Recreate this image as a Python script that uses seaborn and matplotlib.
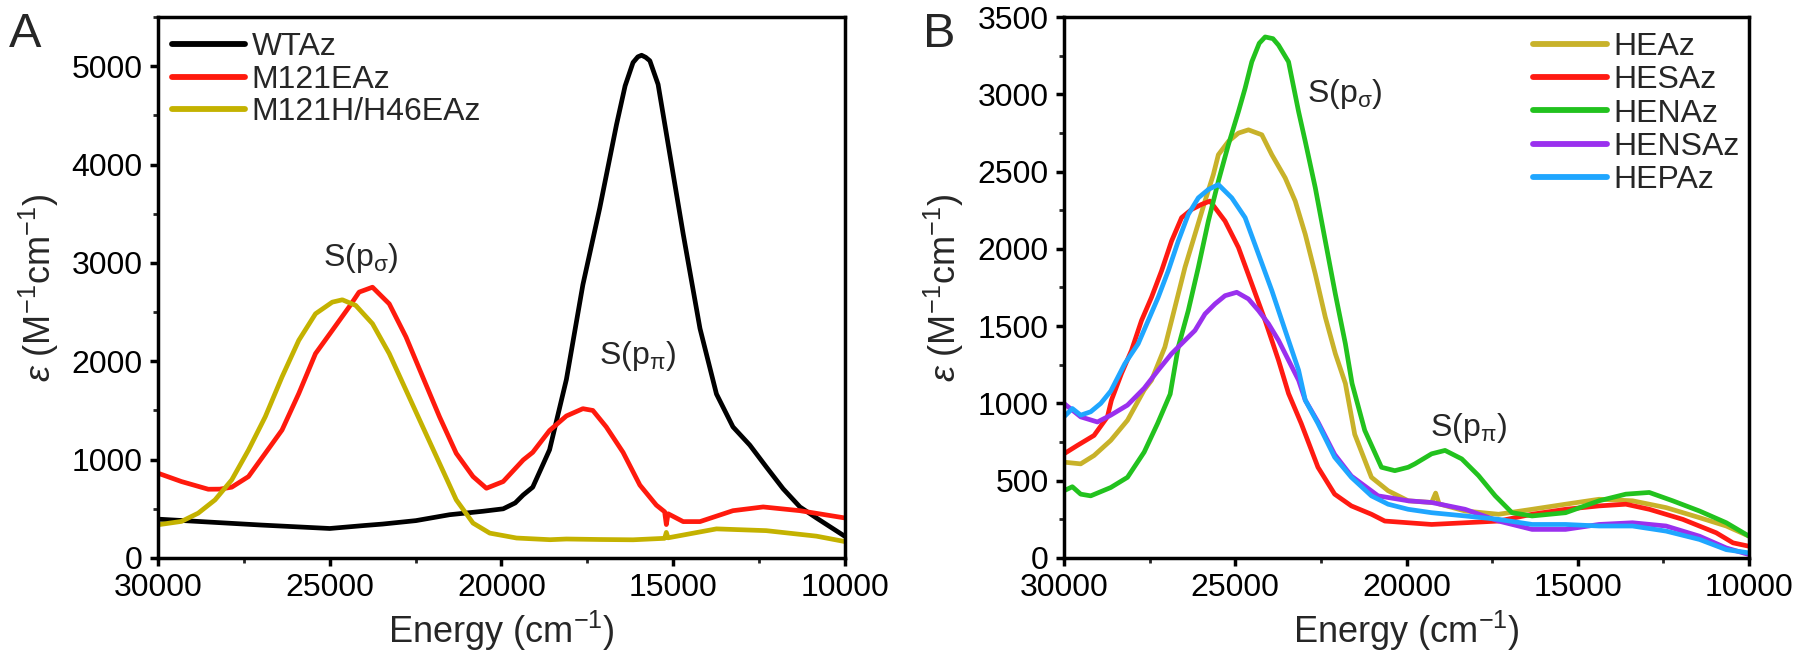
import matplotlib
matplotlib.use("Agg")
import matplotlib.pyplot as plt
import seaborn as sns
from matplotlib.ticker import MultipleLocator

# ---------------- Panel A data ----------------
wt_E = [30000, 28500, 27000, 25000, 24000, 23460, 22490, 21510, 20540, 19950, 19600, 19370, 19090,
        18780, 18600, 18110, 17630, 17140, 16650, 16400, 16170, 16030, 15920, 15800, 15680, 15440,
        15190, 14710, 14220, 13740, 13260, 12770, 12290, 11800, 11310, 10830, 10000]
wt_v = [395, 365, 335, 300, 330, 345, 380, 440, 475, 500, 560, 640, 720,
        960, 1100, 1815, 2778, 3556, 4407, 4800, 5037, 5095, 5111, 5090, 5055, 4815,
        4296, 3296, 2333, 1667, 1333, 1148, 926, 704, 519, 407, 220]

m121e_E = [30000, 29317, 28537, 28200, 27854, 27366, 26878, 26390, 25902, 25415, 24927, 24439, 24146,
           23756, 23268, 22780, 22293, 21805, 21317, 20829, 20439, 19951, 19366, 19090, 18600, 18110,
           17630, 17340, 16950, 16460, 15970, 15490, 15250, 15200, 15150, 14710, 14220, 13260, 12380,
           11310, 10000]
m121e_v = [862, 777, 699, 700, 720, 828, 1064, 1301, 1672, 2078, 2314, 2551, 2703,
           2753, 2584, 2247, 1841, 1436, 1064, 828, 709, 777, 997, 1074, 1296, 1444,
           1518, 1500, 1333, 1074, 741, 537, 470, 340, 450, 370, 370, 481, 519,
           481, 407]

m121h_E = [30000, 29317, 28830, 28340, 27854, 27366, 26878, 26390, 25902, 25415, 24927, 24634, 24244,
           23756, 23268, 22780, 22293, 21805, 21317, 20829, 20342, 19561, 18585, 18110, 17140, 16170,
           15250, 15200, 15150, 13740, 12290, 10830, 10000]
m121h_v = [338, 372, 456, 591, 794, 1098, 1436, 1841, 2213, 2483, 2601, 2625, 2568,
           2382, 2078, 1706, 1334, 963, 591, 355, 253, 203, 186, 193, 188, 185,
           200, 260, 205, 296, 278, 222, 167]

# ---------------- Panel B data ----------------
hea_E = [30000, 29512, 29122, 28634, 28146, 27659, 27444, 27054, 26761, 26468, 26176, 25883, 25639,
         25493, 25200, 24907, 24615, 24224, 23932, 23542, 23249, 22956, 22663, 22371, 22078, 21785,
         21512, 21024, 20537, 19951, 19267, 19150, 19050, 18289, 17312, 16334, 15357, 14379, 13402,
         12424, 11447, 10665, 10000]
hea_v = [620, 609, 663, 761, 891, 1087, 1150, 1365, 1622, 1880, 2094, 2309, 2481,
         2609, 2695, 2749, 2770, 2738, 2609, 2459, 2309, 2094, 1837, 1558, 1322, 1129,
         800, 522, 435, 370, 359, 420, 350, 304, 283, 315, 348, 380, 370,
         326, 261, 207, 141]

hesa_E = [30000, 29610, 29122, 28732, 28615, 28322, 28029, 27737, 27444, 27151, 26858, 26566, 26273,
          25980, 25737, 25298, 24907, 24517, 24127, 23737, 23444, 23073, 22585, 22098, 21610, 21024,
          20634, 19951, 19267, 18289, 17312, 16334, 15357, 14379, 13597, 12913, 11935, 10958, 10469,
          10000]
hesa_v = [674, 728, 793, 913, 1021, 1193, 1343, 1536, 1687, 1858, 2051, 2202, 2255,
          2288, 2309, 2180, 2009, 1773, 1536, 1279, 1064, 870, 587, 413, 337, 283,
          239, 228, 217, 228, 239, 283, 315, 337, 348, 315, 250, 163, 98,
          76]

hena_E = [30000, 29756, 29512, 29220, 28634, 28146, 27659, 27268, 26900, 26663, 26371, 26078, 25785,
          25493, 25200, 24907, 24712, 24517, 24300, 24127, 23900, 23737, 23444, 23151, 22956, 22663,
          22371, 22078, 21785, 21590, 21220, 20732, 20342, 19951, 19756, 19267, 18876, 18387, 17898,
          17410, 16921, 16334, 15357, 14379, 13597, 12913, 12229, 11447, 10665, 10000]
hena_v = [435, 461, 413, 402, 456, 522, 685, 870, 1060, 1365, 1601, 1880, 2180,
          2438, 2674, 2888, 3039, 3210, 3330, 3371, 3360, 3318, 3210, 2888, 2695, 2395,
          2051, 1708, 1386, 1129, 826, 587, 565, 587, 609, 674, 696, 641, 533,
          402, 293, 272, 293, 370, 413, 424, 370, 304, 228, 141]

hensa_E = [30000, 29512, 29024, 28634, 28146, 27659, 27249, 26858, 26468, 26176, 25883, 25590, 25298,
           24956, 24615, 24322, 24029, 23737, 23444, 23151, 22956, 22585, 22098, 21610, 20829, 19951,
           19267, 18289, 17312, 16334, 15357, 14379, 13402, 12424, 11447, 10665, 10000]
hensa_v = [1000, 913, 880, 924, 989, 1098, 1215, 1322, 1408, 1472, 1579, 1644, 1697,
           1719, 1676, 1601, 1515, 1408, 1279, 1150, 1021, 880, 670, 530, 402, 370,
           359, 315, 239, 185, 185, 217, 228, 207, 141, 65, 22]

hepa_E = [30000, 29756, 29512, 29220, 28927, 28634, 28224, 27834, 27542, 27249, 26956, 26663, 26371,
          26078, 25785, 25493, 25102, 24712, 24322, 23932, 23542, 23151, 22956, 22585, 22098, 21610,
          21024, 20537, 19951, 19267, 18289, 17312, 16334, 15357, 14379, 13402, 12424, 11447, 10665,
          10000]
hepa_v = [913, 967, 924, 946, 1000, 1080, 1257, 1386, 1536, 1687, 1858, 2051, 2223,
          2330, 2384, 2416, 2330, 2202, 1966, 1730, 1472, 1215, 1021, 870, 652, 522,
          402, 348, 315, 293, 272, 250, 217, 217, 207, 207, 174, 120, 54,
          33]

x_ticks = [30000, 25000, 20000, 15000, 10000]
yA_ticks = [0, 1000, 2000, 3000, 4000, 5000]
yB_ticks = [0, 500, 1000, 1500, 2000, 2500, 3000, 3500]

# ---------------- Style ----------------
sns.set_theme(style="ticks")
plt.rcParams["font.family"] = ["Liberation Sans", "DejaVu Sans"]
plt.rcParams["mathtext.fontset"] = "custom"
plt.rcParams["mathtext.rm"] = "Liberation Sans"
plt.rcParams["mathtext.it"] = "Liberation Sans:italic"
plt.rcParams["mathtext.bf"] = "Liberation Sans:bold"
plt.rcParams["mathtext.sf"] = "Liberation Sans"

fig = plt.figure(figsize=(18, 6.54), dpi=100)
axA = fig.add_axes([0.0878, 0.1468, 0.3816, 0.8272])
axB = fig.add_axes([0.5911, 0.1468, 0.3806, 0.8272])

LW = 3.4
seriesA = [("WTAz", wt_E, wt_v, "#000000"),
           ("M121EAz", m121e_E, m121e_v, "#ff1a0d"),
           ("M121H/H46EAz", m121h_E, m121h_v, "#c4b200")]
seriesB = [("HEAz", hea_E, hea_v, "#c8b22a"),
           ("HESAz", hesa_E, hesa_v, "#ff1a12"),
           ("HENAz", hena_E, hena_v, "#22c21e"),
           ("HENSAz", hensa_E, hensa_v, "#9a30ee"),
           ("HEPAz", hepa_E, hepa_v, "#1fa6ff")]

for name, E, v, c in seriesA:
    sns.lineplot(x=E, y=v, ax=axA, color=c, lw=LW, label=name, sort=False, estimator=None)
for name, E, v, c in seriesB:
    sns.lineplot(x=E, y=v, ax=axB, color=c, lw=LW, label=name, sort=False, estimator=None)

for ax, yt, ytop, ymin in [(axA, yA_ticks, 5500, 500), (axB, yB_ticks, 3500, 250)]:
    ax.set_xlim(30000, 10000)
    ax.set_ylim(0, ytop)
    ax.set_xticks(x_ticks)
    ax.set_yticks(yt)
    ax.xaxis.set_minor_locator(MultipleLocator(2500))
    ax.yaxis.set_minor_locator(MultipleLocator(ymin))
    for s in ax.spines.values():
        s.set_visible(True)
        s.set_linewidth(2.5)
        s.set_color("black")
    ax.tick_params(which="major", direction="out", length=6, width=2.5, labelsize=23,
                   top=False, right=False, pad=5, colors="black")
    ax.tick_params(which="minor", direction="out", length=3.5, width=2, top=False, right=False)
    ax.set_xlabel("Energy (cm$^{-1}$)", fontsize=26, labelpad=4)
    ax.set_ylabel(r"$\varepsilon$ (M$^{-1}$cm$^{-1}$)", fontsize=26, labelpad=8)
    ax.grid(False)

legA = axA.legend(loc="upper left", bbox_to_anchor=(0.02, 0.972), frameon=False, fontsize=23,
                  handlelength=2.3, handletextpad=0.2, labelspacing=0.08, borderpad=0, borderaxespad=0)
legB = axB.legend(loc="upper right", bbox_to_anchor=(0.986, 0.972), frameon=False, fontsize=23,
                  handlelength=2.3, handletextpad=0.2, labelspacing=0.1, borderpad=0, borderaxespad=0)
for leg in (legA, legB):
    for h in leg.get_lines():
        h.set_linewidth(4.2)

axA.text(24100, 3050, r"S(p$_{\mathrm{\sigma}}$)", fontsize=23, ha="center", va="center")
axA.text(16050, 2050, r"S(p$_{\mathrm{\pi}}$)", fontsize=23, ha="center", va="center")
axB.text(21800, 3000, r"S(p$_{\mathrm{\sigma}}$)", fontsize=23, ha="center", va="center")
axB.text(18200, 840, r"S(p$_{\mathrm{\pi}}$)", fontsize=23, ha="center", va="center")

fig.text(0.005, 0.982, "A", fontsize=35, va="top", ha="left")
fig.text(0.5128, 0.982, "B", fontsize=35, va="top", ha="left")

fig.savefig("out.png", dpi=100)
